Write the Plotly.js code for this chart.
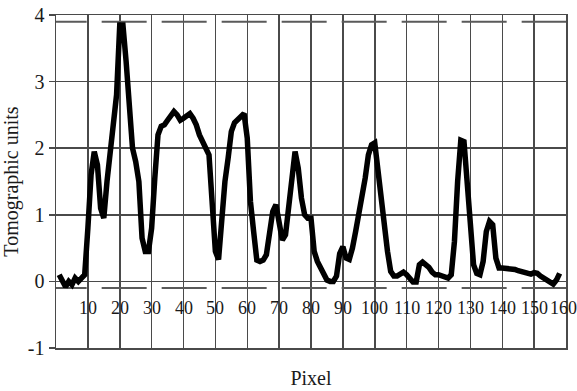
<!DOCTYPE html>
<html>
<head>
<meta charset="utf-8">
<script src="https://cdn.plot.ly/plotly-3.0.1.min.js"></script>
<style>
html,body{margin:0;padding:0;background:#fff;}
#chart{width:577px;height:391px;}
</style>
</head>
<body>
<div id="chart"></div>
<script>
// Pixel index
const pixels = [];
for (let i = 1; i <= 158; i++) pixels.push(i);

// Tomographic units, pixel 1..158
const tomo = [
  0.10, 0.00, -0.08, 0.00, -0.05, 0.05, 0.00, 0.05, 0.10, 0.80,
  1.60, 1.95, 1.75, 1.10, 0.95, 1.50, 2.00, 2.50, 2.80, 3.85,
  3.85, 3.30, 2.50, 2.00, 1.80, 1.50, 0.65, 0.45, 0.45, 0.80,
  1.55, 2.20, 2.33, 2.35, 2.42, 2.50, 2.55, 2.50, 2.42, 2.45,
  2.48, 2.52, 2.45, 2.35, 2.20, 2.08, 2.00, 1.90, 1.10, 0.45,
  0.33, 1.00, 1.50, 1.85, 2.25, 2.38, 2.42, 2.48, 2.52, 2.15,
  1.20, 0.75, 0.32, 0.30, 0.32, 0.40, 0.70, 1.05, 1.15, 0.85,
  0.62, 0.70, 1.18, 1.60, 1.95, 1.70, 1.25, 1.00, 0.95, 0.95,
  0.45, 0.30, 0.20, 0.10, 0.02, 0.00, 0.00, 0.08, 0.42, 0.52,
  0.35, 0.33, 0.50, 0.75, 1.00, 1.25, 1.55, 1.90, 2.05, 2.08,
  1.65, 1.20, 0.80, 0.45, 0.15, 0.08, 0.08, 0.12, 0.14, 0.10,
  0.03, -0.01, -0.01, 0.25, 0.29, 0.25, 0.21, 0.14, 0.10, 0.10,
  0.08, 0.05, 0.05, 0.10, 0.60, 1.50, 2.12, 2.10, 1.55, 0.80,
  0.25, 0.12, 0.10, 0.30, 0.75, 0.90, 0.85, 0.35, 0.20, 0.20,
  0.20, 0.18, 0.18, 0.18, 0.16, 0.15, 0.13, 0.12, 0.11, 0.13,
  0.12, 0.08, 0.05, 0.02, -0.01, -0.04, 0.02, 0.12
];

// X tick labels (drawn inside the plot, as in the reference)
const xTickVals = [10, 20, 30, 40, 50, 60, 70, 80, 90, 100, 110, 120, 130, 140, 150, 160];
const xTickText = ["10","20","30","40","50","60","70","80","90","100","110","120","130","140","150","160"];
const xLabelLevel = -0.4;

// Y ticks
const yTickVals = [-1, 0, 1, 2, 3, 4];
const yTickText = ["-1", "0", "1", "2", "3", "4"];

// Dashed reference levels
const upperLevel = 3.9;
const lowerLevel = -0.1;

const serif = "'Liberation Serif', 'Times New Roman', serif";

const traces = [
  {
    x: [-4.5, 160], y: [upperLevel, upperLevel],
    mode: "lines", line: {color: "#5a5a5a", width: 2, dash: "45px,15px"},
    hoverinfo: "skip", showlegend: false
  },
  {
    x: [-4.5, 160], y: [lowerLevel, lowerLevel],
    mode: "lines", line: {color: "#5a5a5a", width: 2, dash: "45px,15px"},
    hoverinfo: "skip", showlegend: false
  },
  {
    x: pixels, y: tomo,
    mode: "lines", line: {color: "#000", width: 5.5},
    showlegend: false
  }
];

const annotations = xTickVals.map((v, i) => ({
  x: v, y: xLabelLevel, xref: "x", yref: "y",
  text: xTickText[i], showarrow: false,
  xanchor: "center", yanchor: "middle",
  xshift: (i === xTickVals.length - 1) ? -3 : 0,
  font: {family: serif, size: 18, color: "#1a1a1a"}
}));

const layout = {
  width: 577, height: 391,
  margin: {l: 56, r: 11, t: 15, b: 43},
  paper_bgcolor: "#fff", plot_bgcolor: "#fff",
  showlegend: false,
  xaxis: {
    range: [0, 160],
    tickvals: xTickVals,
    showticklabels: false,
    ticks: "",
    showgrid: true, gridcolor: "#4a4a4a", gridwidth: 1.5,
    showline: true, linecolor: "#4a4a4a", linewidth: 1.5, mirror: true,
    zeroline: false,
    title: {text: "Pixel", font: {family: serif, size: 20, color: "#1a1a1a"}, standoff: 22}
  },
  yaxis: {
    range: [-1, 4],
    tickvals: yTickVals, ticktext: yTickText,
    ticks: "outside", ticklen: 6, tickcolor: "#4a4a4a", tickwidth: 1.5,
    tickfont: {family: serif, size: 20, color: "#1a1a1a"},
    showgrid: true, gridcolor: "#4a4a4a", gridwidth: 1.5,
    showline: true, linecolor: "#4a4a4a", linewidth: 1.5, mirror: true,
    zeroline: false,
    title: {text: "Tomographic units", font: {family: serif, size: 20, color: "#1a1a1a"}, standoff: 4}
  },
  annotations: annotations
};

Plotly.newPlot("chart", traces, layout, {displayModeBar: false, staticPlot: true});
</script>
</body>
</html>
